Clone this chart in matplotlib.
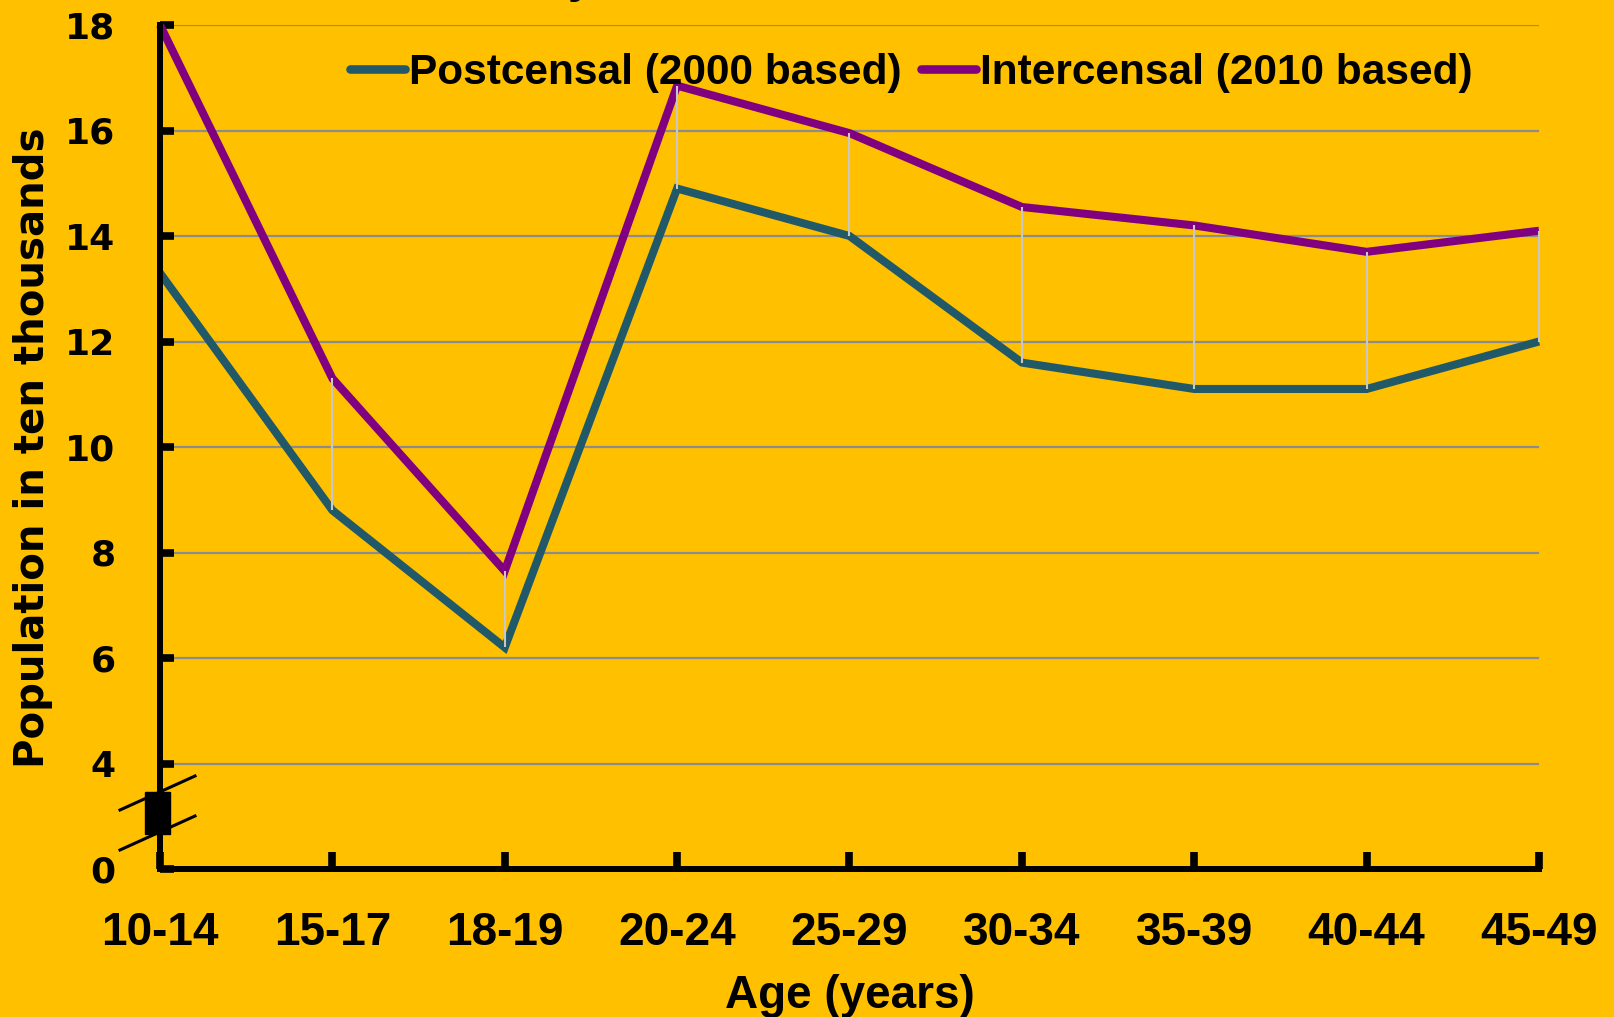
import numpy as np
import matplotlib
matplotlib.use("Agg")
import matplotlib.pyplot as plt
from matplotlib.lines import Line2D
from matplotlib.patches import Rectangle

# data
ages = ["10-14", "15-17", "18-19", "20-24", "25-29", "30-34", "35-39", "40-44", "45-49"]
postcensal = [13.3, 8.8, 6.2, 14.9, 14.0, 11.6, 11.1, 11.1, 12.0]
intercensal = [18.0, 11.3, 7.65, 16.85, 15.95, 14.55, 14.2, 13.7, 14.1]
ytick_vals = [2, 4, 6, 8, 10, 12, 14, 16, 18]
ytick_labels = ["0", "4", "6", "8", "10", "12", "14", "16", "18"]

bg = "#FFC000"
c_post = "#215968"
c_inter = "#800080"
W, H = 1614, 1017

fig = plt.figure(figsize=(W / 100, H / 100), dpi=100, facecolor=bg)
ax = fig.add_axes([160 / W, 1 - 869 / H, (1539 - 160) / W, (869 - 25) / H])
ax.set_facecolor(bg)

x = np.arange(len(ages))
ax.set_xlim(0, len(ages) - 1)
ax.set_ylim(2, 18)

# gridlines
for v in ytick_vals[1:]:
    ax.axhline(v, color="#8C8C8C", lw=1.6, zorder=1)

ax.plot(x, postcensal, color=c_post, lw=5.8, solid_joinstyle="miter",
        solid_capstyle="butt", zorder=3, clip_on=False)
ax.plot(x, intercensal, color=c_inter, lw=5.8, solid_joinstyle="miter",
        solid_capstyle="butt", zorder=3, clip_on=False)
# drop lines
ax.vlines(x, postcensal, intercensal, color="#C8C8C8", lw=1.5, zorder=4, clip_on=False)

for s in ["top", "right"]:
    ax.spines[s].set_visible(False)
for s in ["left", "bottom"]:
    ax.spines[s].set_linewidth(4.3)
    ax.spines[s].set_color("black")
    ax.spines[s].set_zorder(5)

ax.set_xticks(x)
ax.set_xticklabels(ages, fontfamily="Liberation Sans", fontweight="bold", fontsize=33)
ax.set_yticks(ytick_vals)
ax.set_yticklabels(ytick_labels, fontfamily="DejaVu Sans", fontweight="bold", fontsize=26)
ax.tick_params(axis="x", direction="in", length=12, width=5.5, pad=30)
ax.tick_params(axis="y", direction="in", length=10, width=5.5, pad=32)

ax.set_xlabel("Age (years)", fontfamily="Liberation Sans", fontweight="bold",
              fontsize=33, labelpad=14)
ax.set_ylabel("Population in ten thousands", fontfamily="DejaVu Sans",
              fontweight="bold", fontsize=29)
ax.yaxis.set_label_coords(53 / W, 1 - 448 / H, transform=fig.transFigure)

# axis break marks (figure pixel coords)
def fx(px):
    return px / W

def fy(py):
    return 1 - py / H

fig.add_artist(Rectangle((fx(145), fy(834)), fx(170) - fx(145), fy(792) - fy(834),
                         transform=fig.transFigure, color="black", zorder=6))
for y0 in (810, 850):
    fig.add_artist(Line2D([fx(120), fx(195)], [fy(y0), fy(y0 - 34)],
                          transform=fig.transFigure, color="black", lw=2.2, zorder=6))

# legend
handles = [Line2D([], [], color=c_post, lw=6.2, solid_capstyle="round"),
           Line2D([], [], color=c_inter, lw=6.2, solid_capstyle="round")]
fig.legend(handles, ["Postcensal (2000 based)", "Intercensal (2010 based)"],
           loc="center left", bbox_to_anchor=(fx(350), fy(73)), ncol=2,
           frameon=False, borderpad=0, borderaxespad=0, handlelength=1.3,
           handletextpad=0.1, columnspacing=0.45,
           prop={"family": "Liberation Sans", "weight": "bold", "size": 30.5})

# cut-off title fragment at the top edge
fig.text(fx(580), 1.008, "y", ha="center", va="baseline", fontsize=33,
         fontfamily="Liberation Sans", fontweight="bold")

fig.savefig("out.png", dpi=100, facecolor=bg)
